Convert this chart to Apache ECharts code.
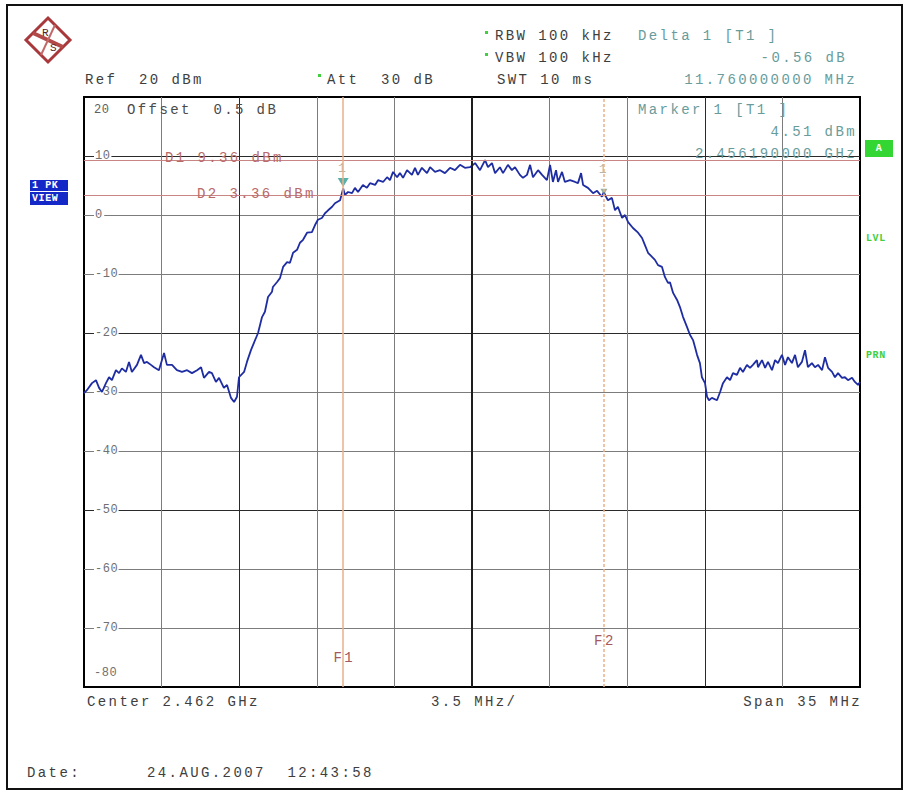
<!DOCTYPE html>
<html>
<head>
<meta charset="utf-8">
<script src="https://cdn.jsdelivr.net/npm/echarts@6/dist/echarts.min.js"></script>
<style>
  html, body { margin: 0; padding: 0; background: #fff; }
  #chart { width: 905px; height: 792px; }
  #chart svg text { letter-spacing: 2.4px; }
</style>
</head>
<body>
<div id="chart"></div>
<script>
// Spectrum analyzer screen: channel power trace, center 2.462 GHz, span 35 MHz.
// Frequencies are offsets from the center frequency, in MHz.
const centerMHz = 2462;
const spanMHz = 35;
const divMHz = 3.5;

const traceFreq = [
  -17.50, -17.37, -17.14, -16.96, -16.82, -16.69, -16.51, -16.37, -16.24, -16.06,
  -15.92, -15.79, -15.61, -15.47, -15.34, -15.11, -14.93, -14.79, -14.66, -14.48,
  -14.34, -14.12, -13.89, -13.76, -13.53, -13.31, -13.08, -12.85, -12.63, -12.40,
  -12.22, -12.09, -11.86, -11.73, -11.55, -11.41, -11.19, -11.05, -10.87, -10.73,
  -10.60, -10.51, -10.28, -10.15, -9.97, -9.65, -9.47, -9.34, -9.20, -9.02,
  -8.98, -8.80, -8.66, -8.52, -8.34, -8.21, -8.07, -7.89, -7.76, -7.62,
  -7.44, -7.22, -7.08, -6.95, -6.77, -6.63, -6.49, -6.31, -6.18, -5.95,
  -5.81, -5.73, -5.59, -5.41, -5.28, -5.14, -4.92, -4.74, -4.60, -4.37,
  -4.24, -4.01, -3.83, -3.70, -3.56, -3.38, -3.25, -3.11, -2.93, -2.71,
  -2.57, -2.44, -2.26, -2.03, -1.89, -1.67, -1.44, -1.22, -0.99, -0.77,
  -0.54, -0.32, -0.09, 0.14, 0.36, 0.59, 0.72, 0.90, 1.04, 1.26,
  1.40, 1.62, 1.80, 1.94, 2.16, 2.30, 2.48, 2.62, 2.75, 2.98,
  3.16, 3.38, 3.52, 3.65, 3.79, 3.88, 4.06, 4.19, 4.42, 4.65,
  4.78, 4.92, 5.01, 5.23, 5.46, 5.64, 5.86, 5.95, 6.00, 6.13,
  6.31, 6.45, 6.58, 6.77, 6.90, 7.04, 7.26, 7.49, 7.67, 7.80,
  7.94, 8.12, 8.25, 8.39, 8.57, 8.70, 8.84, 8.93, 9.07, 9.25,
  9.38, 9.52, 9.70, 9.83, 9.97, 10.06, 10.15, 10.28, 10.37, 10.51,
  10.60, 10.69, 10.82, 11.05, 11.19, 11.32, 11.50, 11.64, 11.77, 11.95,
  12.09, 12.22, 12.40, 12.54, 12.67, 12.85, 12.90, 13.08, 13.22, 13.35,
  13.53, 13.67, 13.80, 13.98, 14.12, 14.25, 14.43, 14.57, 14.70, 14.88,
  15.02, 15.15, 15.33, 15.47, 15.61, 15.79, 15.92, 16.06, 16.24, 16.37,
  16.51, 16.69, 16.82, 16.96, 17.14, 17.27, 17.41, 17.50
];

const traceLevel = [
  -30.2, -29.7, -28.5, -28.0, -29.3, -30.0, -28.5, -27.5, -28.0, -26.3,
  -26.8, -26.0, -26.6, -24.9, -26.6, -25.4, -23.7, -25.1, -24.9, -25.4,
  -25.8, -26.3, -23.4, -25.4, -25.4, -26.3, -26.6, -26.3, -26.8, -26.3,
  -25.8, -27.6, -26.6, -26.8, -28.3, -27.6, -29.3, -28.8, -31.0, -31.7,
  -30.8, -27.5, -26.6, -24.9, -22.9, -20.0, -17.3, -16.4, -13.9, -13.0,
  -12.2, -11.4, -10.7, -8.8, -8.0, -8.1, -6.4, -5.9, -4.7, -4.2,
  -3.0, -2.9, -1.7, -0.8, -0.5, 0.3, 0.8, 1.4, 2.0, 2.5,
  4.51, 3.4, 3.9, 3.7, 4.6, 3.9, 5.1, 4.6, 5.4, 5.1,
  5.9, 5.6, 6.4, 5.9, 7.3, 6.4, 7.1, 6.3, 7.6, 6.8,
  8.0, 6.8, 8.0, 7.1, 8.1, 7.3, 7.6, 7.1, 8.0, 7.6,
  8.5, 8.0, 8.1, 8.8, 7.6, 9.3, 8.1, 8.8, 7.1, 8.1,
  7.1, 8.5, 7.6, 8.1, 6.8, 6.3, 6.8, 8.5, 6.4, 7.6,
  6.8, 5.9, 8.5, 5.6, 7.6, 5.6, 7.3, 5.6, 5.9, 5.6,
  5.4, 7.1, 5.1, 4.6, 3.7, 4.1, 3.1, 3.95, 3.4, 2.5,
  2.9, 0.8, 1.4, -0.5, 0.0, -1.2, -2.2, -3.0, -3.9, -5.1,
  -6.4, -7.1, -7.6, -8.5, -8.8, -10.5, -11.5, -11.4, -13.2, -14.4,
  -15.6, -17.3, -19.0, -20.3, -21.2, -22.4, -23.7, -25.1, -27.5, -28.5,
  -30.8, -31.4, -31.0, -31.4, -30.0, -28.5, -27.5, -28.0, -26.8, -27.1,
  -25.9, -26.6, -25.4, -25.9, -25.4, -24.6, -25.8, -24.6, -25.9, -24.9,
  -26.3, -24.6, -25.1, -23.7, -25.4, -24.1, -25.1, -23.7, -25.8, -24.9,
  -22.9, -25.8, -25.1, -25.8, -25.4, -26.3, -24.1, -25.9, -26.6, -27.5,
  -26.8, -27.6, -27.5, -28.0, -27.6, -28.3, -28.8, -28.3
];

// Level axis (dBm): reference level 20 dBm, 10 dB/div
const levelMin = -80;
const levelMax = 20;
const levelStep = 10;

// Display lines and frequency lines
const d1Level = 9.36;
const d2Level = 3.36;
const f1Freq = -5.81;
const f2Freq = 5.95;

// Marker 1 and Delta 1
const marker1Freq = -5.81;
const marker1Level = 4.51;
const delta1Freq = 5.95;
const delta1Level = 3.95;

const MONO = '"Liberation Mono", "DejaVu Sans Mono", monospace';
const C_TEXT = '#3e3e3e';
const C_MARK = '#689c9c';
const C_LINE = '#b86a6a';
const C_GREEN = '#3fcf3f';

const chart = echarts.init(document.getElementById('chart'), null, { renderer: 'svg' });

const traceData = traceFreq.map((f, i) => [f, traceLevel[i]]);

chart.setOption({
  animation: false,
  backgroundColor: '#ffffff',
  grid: {
    left: 84, right: 45, top: 97, bottom: 105,
    show: true, borderColor: '#000', borderWidth: 2, backgroundColor: 'transparent'
  },
  xAxis: {
    type: 'value',
    min: -spanMHz / 2, max: spanMHz / 2, interval: divMHz,
    axisLine: { show: false }, axisTick: { show: false }, axisLabel: { show: false },
    splitLine: {
      show: true, showMinLine: false, showMaxLine: false,
      lineStyle: { color: ['#7c7c7c', '#2a2a2a', '#7c7c7c'], width: 1 }
    }
  },
  yAxis: {
    type: 'value',
    min: levelMin, max: levelMax, interval: levelStep,
    axisLine: { show: false }, axisTick: { show: false },
    axisLabel: {
      inside: true, margin: 10,
      formatter: v => v === levelMax ? '{hi|' + v + '}' : (v === levelMin ? '{lo|' + v + '}' : '{n|' + v + '}'),
      rich: {
        n: { fontFamily: MONO, fontSize: 12, color: '#707070', backgroundColor: '#fff', padding: [0, 2, 0, 1] },
        hi: { fontFamily: MONO, fontSize: 12, color: '#606060', padding: [25, 0, 0, 0] },
        lo: { fontFamily: MONO, fontSize: 12, color: '#707070', padding: [0, 0, 28, 0] }
      }
    },
    splitLine: {
      show: true, showMinLine: false, showMaxLine: false,
      lineStyle: { color: ['#7c7c7c', '#7c7c7c', '#2a2a2a'], width: 1 }
    }
  },
  series: [
    {
      // center frequency line, display lines D1/D2 and frequency lines F1/F2
      type: 'line', data: [], z: 1, silent: true,
      markLine: {
        silent: true, symbol: 'none', label: { show: false }, animation: false,
        data: [
          { xAxis: 0, lineStyle: { color: '#1e1e1e', width: 2, type: 'solid' } },
          { yAxis: d1Level, lineStyle: { color: '#c98484', width: 1, type: 'solid' } },
          { yAxis: d2Level, lineStyle: { color: '#c98484', width: 1, type: 'solid' } },
          { xAxis: f1Freq, lineStyle: { color: '#eab089', width: 1.5, type: 'solid' } },
          { xAxis: f2Freq, lineStyle: { color: '#eab089', width: 1.5, type: [3, 2] } }
        ]
      }
    },
    {
      type: 'line', data: traceData, z: 3, silent: true,
      symbol: 'none', showSymbol: false, clip: true,
      lineStyle: { color: '#1f2da3', width: 1.8 }
    },
    {
      type: 'scatter', z: 4, silent: true,
      data: [[marker1Freq, marker1Level]],
      symbol: 'triangle', symbolRotate: 180, symbolSize: [11, 9], symbolOffset: [0, -6],
      itemStyle: { color: '#2f9b94' },
      label: { show: true, position: 'top', distance: 3, formatter: '1', color: '#a8987f', fontFamily: MONO, fontSize: 13 }
    },
    {
      type: 'scatter', z: 4, silent: true,
      data: [[delta1Freq, delta1Level]],
      symbol: 'triangle', symbolRotate: 180, symbolSize: [7, 6],
      itemStyle: { color: '#7d9d8a' },
      label: { show: true, position: 'top', distance: 13, formatter: '1', color: '#a8a08f', fontFamily: MONO, fontSize: 13 }
    }
  ]
});

function txt(text, x, y, o) {
  o = o || {};
  const align = o.align || 'left';
  return {
    type: 'text', silent: true, z: 50,
    style: {
      text: text, x: x, y: y,
      font: (o.weight || 'normal') + ' ' + (o.size || 14) + 'px ' + MONO,
      fill: o.fill || C_TEXT,
      align: align, textAlign: align,
      verticalAlign: 'middle', textVerticalAlign: 'middle'
    }
  };
}

const px = (f, l) => chart.convertToPixel({ gridIndex: 0 }, [f, l]);
const d1Y = px(0, d1Level)[1];
const d2Y = px(0, d2Level)[1];
const f1X = px(f1Freq, 0)[0];
const f2X = px(f2Freq, 0)[0];
const gridTop = px(0, levelMax)[1];
const gridBottom = px(0, levelMin)[1];
const gridLeft = px(-spanMHz / 2, 0)[0];
const gridRight = px(spanMHz / 2, 0)[0];

const deltaDb = (delta1Level - marker1Level).toFixed(2);
const deltaMHz = (delta1Freq - marker1Freq).toFixed(9);
const markerGHz = ((centerMHz + marker1Freq) / 1000).toFixed(9);

const graphics = [
  // outer frame
  { type: 'rect', silent: true, z: 0, shape: { x: 7, y: 5, width: 895, height: 784 },
    style: { fill: 'none', stroke: '#111', lineWidth: 2 } },
  // logo
  { type: 'polygon', silent: true, z: 10, shape: { points: [[48, 18], [70, 40], [48, 62], [26, 40]] },
    style: { fill: '#fff', stroke: '#a8383a', lineWidth: 3 } },
  { type: 'line', silent: true, z: 11, shape: { x1: 33, y1: 33, x2: 63, y2: 47 },
    style: { stroke: '#b24a4a', lineWidth: 4 } },
  { type: 'line', silent: true, z: 11, shape: { x1: 55, y1: 25, x2: 41, y2: 55 },
    style: { stroke: '#c26a6a', lineWidth: 2 } },
  txt('R', 42, 33, { size: 11, fill: '#5a2020' }),
  txt('S', 50, 48, { size: 11, fill: '#5a2020' }),

  // header
  txt('Ref  20 dBm', 85, 80),
  { type: 'rect', silent: true, z: 50, shape: { x: 318, y: 74, width: 3, height: 3 }, style: { fill: C_GREEN } },
  txt('Att  30 dB', 327, 80),
  { type: 'rect', silent: true, z: 50, shape: { x: 485, y: 31, width: 3, height: 3 }, style: { fill: C_GREEN } },
  txt('RBW 100 kHz', 495, 36),
  { type: 'rect', silent: true, z: 50, shape: { x: 485, y: 53, width: 3, height: 3 }, style: { fill: C_GREEN } },
  txt('VBW 100 kHz', 495, 58),
  txt('SWT 10 ms', 497, 80),
  txt('Delta 1 [T1 ]', 638, 36, { fill: C_MARK }),
  txt(deltaDb + ' dB', 847, 58, { fill: C_MARK, align: 'right' }),
  txt(deltaMHz + ' MHz', 857, 80, { fill: C_MARK, align: 'right' }),

  // inside plot
  txt('Offset  0.5 dB', 127, gridTop + 13, { fill: '#4a4a4a' }),
  txt('Marker 1 [T1 ]', 638, gridTop + 13, { fill: C_MARK }),
  txt(marker1Level.toFixed(2) + ' dBm', 857, gridTop + 35, { fill: C_MARK, align: 'right' }),
  txt(markerGHz + ' GHz', 857, gridTop + 57, { fill: C_MARK, align: 'right' }),
  txt('D1 ' + d1Level.toFixed(2) + ' dBm', gridLeft + 81, d1Y - 2, { fill: C_LINE }),
  txt('D2 ' + d2Level.toFixed(2) + ' dBm', gridLeft + 113, d2Y - 1, { fill: C_LINE }),
  txt('F1', f1X + 1, px(0, -75)[1], { fill: '#a5585e', align: 'center' }),
  txt('F2', f2X + 1, px(0, -72.2)[1], { fill: '#a5585e', align: 'center' }),

  // left status boxes
  { type: 'rect', silent: true, z: 50, shape: { x: 30, y: 180, width: 38, height: 11 }, style: { fill: '#1428c8' } },
  txt('1 PK', 32, 185.5, { size: 10, fill: '#fff', weight: 'bold' }),
  { type: 'rect', silent: true, z: 50, shape: { x: 30, y: 192, width: 38, height: 13 }, style: { fill: '#1428c8' } },
  txt('VIEW', 32, 198.5, { size: 10, fill: '#fff', weight: 'bold' }),

  // right status indicators
  { type: 'rect', silent: true, z: 50, shape: { x: gridRight + 5, y: 140, width: 28, height: 17 }, style: { fill: '#33d633' } },
  txt('A', gridRight + 19, 148.5, { size: 10, fill: '#fff', weight: 'bold', align: 'center' }),
  txt('LVL', gridRight + 6, 238, { size: 10, fill: C_GREEN, weight: 'bold' }),
  txt('PRN', gridRight + 6, 355, { size: 10, fill: C_GREEN, weight: 'bold' }),

  // footer
  txt('Center ' + (centerMHz / 1000).toFixed(3) + ' GHz', 87, gridBottom + 15),
  txt(divMHz + ' MHz/', 431, gridBottom + 15),
  txt('Span ' + spanMHz + ' MHz', gridRight + 2, gridBottom + 15, { align: 'right' }),
  txt('Date:', 27, 773),
  txt('24.AUG.2007  12:43:58', 147, 773)
];

chart.setOption({ graphic: { elements: graphics } });

// Tighter tracking for the small texts (axis labels, status boxes)
function tuneSpacing() {
  document.querySelectorAll('#chart svg text').forEach(t => {
    const fs = parseFloat(getComputedStyle(t).fontSize) || 14;
    if (fs < 13) t.style.letterSpacing = '0.6px';
  });
}
tuneSpacing();
chart.on('finished', tuneSpacing);
</script>
</body>
</html>
